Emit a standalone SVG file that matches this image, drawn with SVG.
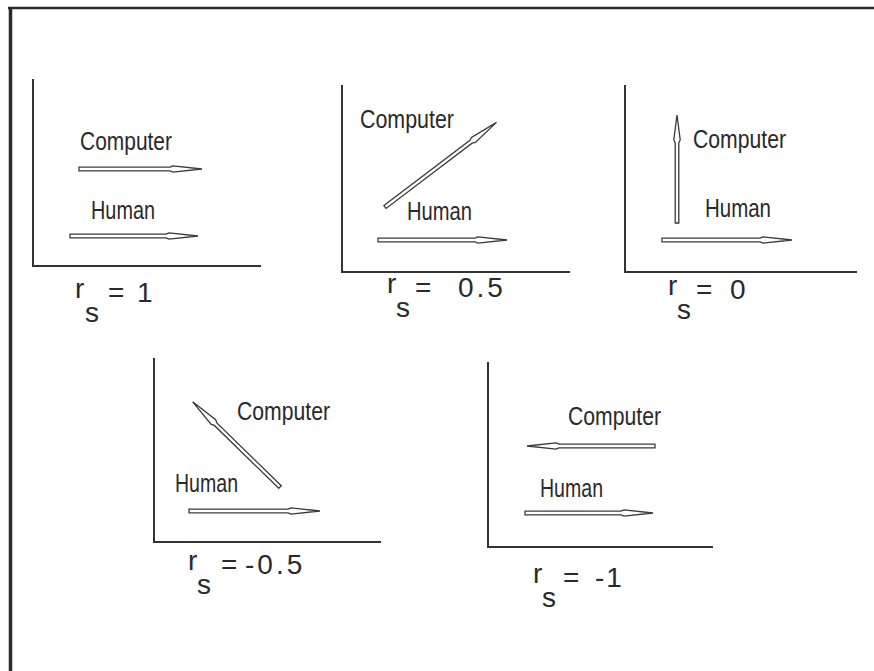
<svg xmlns="http://www.w3.org/2000/svg" width="874" height="671" viewBox="0 0 874 671">
<style>
.frame{stroke:#2b2b2b;fill:none}
.axis{stroke:#333;stroke-width:2;fill:none}
.arr{fill:#fff;stroke:#3a3a3a;stroke-width:1.3;stroke-linejoin:miter}
.lbl{font-family:"Liberation Sans",Arial,sans-serif;font-size:25px;fill:#2a2a2a}
.rs{font-family:"Liberation Sans",Arial,sans-serif;font-size:28px;fill:#2a2a2a}
.sub{font-family:"Liberation Sans",Arial,sans-serif;font-size:28px;fill:#2a2a2a}
</style>
<rect width="874" height="671" fill="#fff"/>
<g id="frame">
<line class="frame" x1="8" y1="8" x2="874" y2="8" stroke-width="2.5"/>
<line class="frame" x1="10.5" y1="7" x2="10.5" y2="671" stroke-width="3.5"/>
</g>
<g id="panel1">
<path class="axis" d="M33,79 V266 H261"/>
<text class="lbl" x="80" y="150" textLength="92" lengthAdjust="spacingAndGlyphs">Computer</text>
<text class="lbl" x="91" y="219" textLength="64" lengthAdjust="spacingAndGlyphs">Human</text>
<text class="rs" x="75" y="298">r</text>
<text class="sub" x="85" y="322">s</text>
<text class="rs" x="108" y="302">=</text>
<text class="rs" x="137" y="302">1</text>
</g>
<g id="panel2">
<path class="axis" d="M342,85 V272 H570"/>
<text class="lbl" x="360" y="128" textLength="94" lengthAdjust="spacingAndGlyphs">Computer</text>
<text class="lbl" x="407" y="220" textLength="65" lengthAdjust="spacingAndGlyphs">Human</text>
<text class="rs" x="387" y="293">r</text>
<text class="sub" x="396" y="317">s</text>
<text class="rs" x="415" y="297">=</text>
<text class="rs" x="458" y="297" letter-spacing="3">0.5</text>
</g>
<g id="panel3">
<path class="axis" d="M625,85 V272 H857"/>
<text class="lbl" x="693" y="148" textLength="93" lengthAdjust="spacingAndGlyphs">Computer</text>
<text class="lbl" x="705" y="217" textLength="66" lengthAdjust="spacingAndGlyphs">Human</text>
<text class="rs" x="668" y="295">r</text>
<text class="sub" x="677" y="319">s</text>
<text class="rs" x="696" y="299">=</text>
<text class="rs" x="730" y="299">0</text>
</g>
<g id="panel4">
<path class="axis" d="M154,358 V542 H381"/>
<text class="lbl" x="237" y="420" textLength="93" lengthAdjust="spacingAndGlyphs">Computer</text>
<text class="lbl" x="175" y="492" textLength="63" lengthAdjust="spacingAndGlyphs">Human</text>
<text class="rs" x="188" y="570">r</text>
<text class="sub" x="197" y="594">s</text>
<text class="rs" x="221" y="574">=</text>
<text class="rs" x="245" y="574" letter-spacing="3">-0.5</text>
</g>
<g id="panel5">
<path class="axis" d="M488,362 V547 H713"/>
<text class="lbl" x="568" y="425" textLength="93" lengthAdjust="spacingAndGlyphs">Computer</text>
<text class="lbl" x="540" y="497" textLength="63" lengthAdjust="spacingAndGlyphs">Human</text>
<text class="rs" x="533" y="583">r</text>
<text class="sub" x="542" y="607">s</text>
<text class="rs" x="563" y="587">=</text>
<text class="rs" x="595" y="587" letter-spacing="2">-1</text>
</g>
<g id="connectors">
<path class="arr" transform="translate(79,169)" d="M0,-1.8 H91 L94,-3.2 L123,0 L94,3.2 L91,1.8 H0 Z"/>
<path class="arr" transform="translate(70,236)" d="M0,-1.8 H96 L99,-3.2 L128,0 L99,3.2 L96,1.8 H0 Z"/>
<path class="arr" transform="translate(385,207) rotate(-37.2)" d="M0,-1.8 H108 L111,-3.2 L140,0 L111,3.2 L108,1.8 H0 Z"/>
<path class="arr" transform="translate(378,240)" d="M0,-1.8 H97 L100,-3.2 L129,0 L100,3.2 L97,1.8 H0 Z"/>
<path class="arr" transform="translate(677,223) rotate(-90)" d="M0,-1.8 H80 L83,-3.2 L108,0 L83,3.2 L80,1.8 H0 Z"/>
<path class="arr" transform="translate(662,240)" d="M0,-1.8 H98 L101,-3.2 L130,0 L101,3.2 L98,1.8 H0 Z"/>
<path class="arr" transform="translate(280,487) rotate(-135.7)" d="M0,-1.8 H90 L93,-3.2 L122,0 L93,3.2 L90,1.8 H0 Z"/>
<path class="arr" transform="translate(189,511)" d="M0,-1.8 H99 L102,-3.2 L131,0 L102,3.2 L99,1.8 H0 Z"/>
<path class="arr" transform="translate(655,446) rotate(180)" d="M0,-1.8 H96 L99,-3.2 L128,0 L99,3.2 L96,1.8 H0 Z"/>
<path class="arr" transform="translate(525,513)" d="M0,-1.8 H96 L99,-3.2 L128,0 L99,3.2 L96,1.8 H0 Z"/>
</g>
</svg>
